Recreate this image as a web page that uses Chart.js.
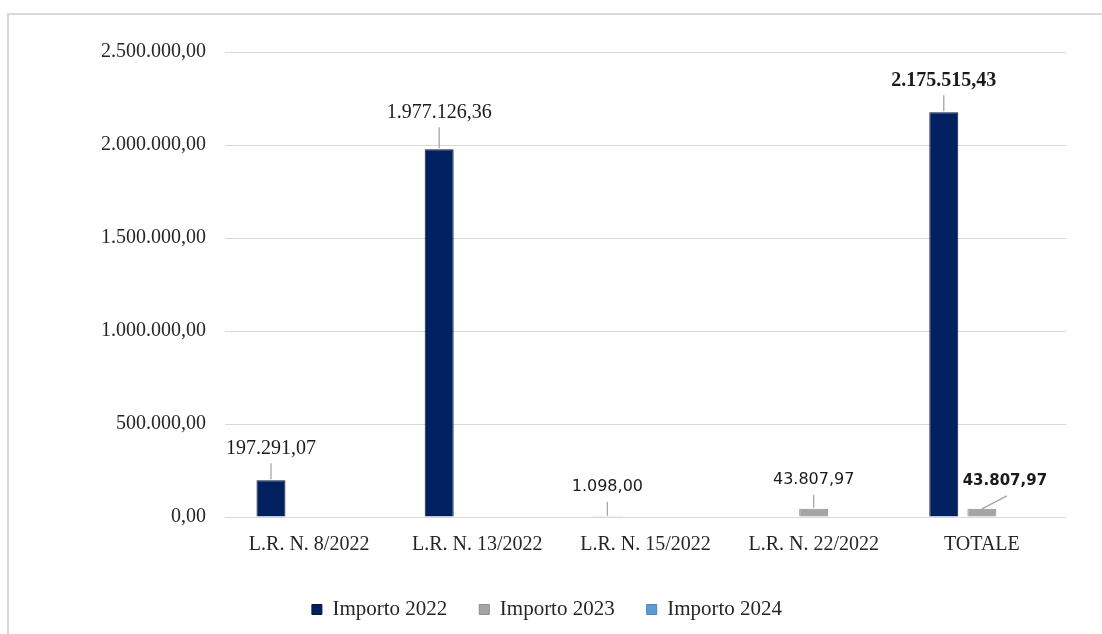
<!DOCTYPE html>
<html>
<head>
<meta charset="utf-8">
<script src="https://cdn.jsdelivr.net/npm/chart.js@4.4.1/dist/chart.umd.min.js"></script>
<style>
  html, body { margin: 0; padding: 0; background: #ffffff; }
  #wrap { position: relative; width: 1102px; height: 634px; overflow: hidden; }
  #frame { position: absolute; left: 7px; top: 13px; width: 1200px; height: 700px;
           border-top: 2px solid #d9d9d9; border-left: 2px solid #d9d9d9; pointer-events: none; }
  canvas { position: absolute; left: 0; top: 0; }
</style>
</head>
<body>
<div id="wrap">
  <canvas id="c" width="1102" height="634"></canvas>
  <div id="frame"></div>
</div>
<script>
// ---- data ----
const categories = ["L.R. N. 8/2022", "L.R. N. 13/2022", "L.R. N. 15/2022", "L.R. N. 22/2022", "TOTALE"];
const importo2022 = [197291.07, 1977126.36, 1098.00, null, 2175515.43];
const importo2023 = [null, null, null, 43807.97, 43807.97];
const importo2024 = [null, null, null, null, null];
const seriesNames = ["Importo 2022", "Importo 2023", "Importo 2024"];
const yTicks = [0, 500000, 1000000, 1500000, 2000000, 2500000];

function fmtIt(v) {
  const parts = Number(v).toFixed(2).split('.');
  return parts[0].replace(/\B(?=(\d{3})+(?!\d))/g, '.') + ',' + parts[1];
}

const SERIF = '"Liberation Serif", "Times New Roman", serif';
const SANS = '"DejaVu Sans", Verdana, sans-serif';

// label styling (dataset index -> data index -> style)
const labelStyle = {
  0: {
    0: { font: '20px ' + SERIF, dx: 0, dy: -32 },
    1: { font: '20px ' + SERIF, dx: 0, dy: -37 },
    2: { font: '16px ' + SANS, dx: 0, dy: -30 },
    4: { font: 'bold 20px ' + SERIF, dx: 0, dy: -32 }
  },
  1: {
    3: { font: '16px ' + SANS, dx: 0, dy: -29 },
    4: { font: 'bold 15px ' + SANS, dx: 23, dy: -28, diagonal: true }
  }
};

const leaderLabels = {
  id: 'leaderLabels',
  afterDatasetsDraw(chart) {
    const ctx = chart.ctx;
    chart.data.datasets.forEach((ds, di) => {
      const meta = chart.getDatasetMeta(di);
      const styles = labelStyle[di] || {};
      meta.data.forEach((bar, i) => {
        const v = ds.data[i];
        const st = styles[i];
        if (v === null || v === undefined || !st) return;
        const top = bar.y;
        const lx = bar.x + st.dx;
        const ly = top + st.dy;
        ctx.save();
        ctx.strokeStyle = '#a6a6a6';
        ctx.lineWidth = 1.3;
        ctx.beginPath();
        if (st.diagonal) {
          ctx.moveTo(bar.x, top);
          ctx.lineTo(lx + 2, ly + 15);
        } else {
          ctx.moveTo(bar.x, top - 1);
          ctx.lineTo(bar.x, ly + 15);
        }
        ctx.stroke();
        ctx.fillStyle = '#1a1a1a';
        ctx.font = st.font;
        ctx.textAlign = 'center';
        ctx.textBaseline = 'middle';
        ctx.fillText(fmtIt(v), lx, ly);
        ctx.restore();
      });
    });
  }
};

new Chart(document.getElementById('c'), {
  type: 'bar',
  data: {
    labels: categories,
    datasets: [
      { label: seriesNames[0], data: importo2022, backgroundColor: '#002060', borderColor: '#0b173a', borderWidth: 1 },
      { label: seriesNames[1], data: importo2023, backgroundColor: '#a5a5a5', borderColor: '#8e8e8e', borderWidth: 1 },
      { label: seriesNames[2], data: importo2024, backgroundColor: '#5b9bd5', borderColor: '#4a86bd', borderWidth: 1 }
    ]
  },
  options: {
    responsive: false,
    animation: false,
    devicePixelRatio: 1,
    layout: { padding: { left: 28, right: 36, top: 52, bottom: 4 } },
    datasets: { bar: { categoryPercentage: 0.68, barPercentage: 0.76 } },
    scales: {
      x: {
        grid: { display: false, drawTicks: false },
        border: { display: false },
        ticks: { color: '#262626', font: { family: SERIF, size: 20 }, padding: 16, maxRotation: 0, autoSkip: false },
        afterFit(scale) { scale.height = 50; }
      },
      y: {
        min: 0, max: 2500000,
        afterBuildTicks(scale) { scale.ticks = yTicks.map(v => ({ value: v })); },
        grid: { color: '#d9d9d9', lineWidth: 1, drawTicks: false },
        border: { display: false },
        ticks: { color: '#262626', font: { family: SERIF, size: 20 }, padding: 19, callback: v => fmtIt(v) },
        afterFit(scale) { scale.width = 197; }
      }
    },
    plugins: {
      legend: {
        position: 'bottom',
        labels: { color: '#262626', font: { family: SERIF, size: 21 }, boxWidth: 10, boxHeight: 10, padding: 32 }
      },
      tooltip: { enabled: false }
    }
  },
  plugins: [leaderLabels]
});
</script>
</body>
</html>
